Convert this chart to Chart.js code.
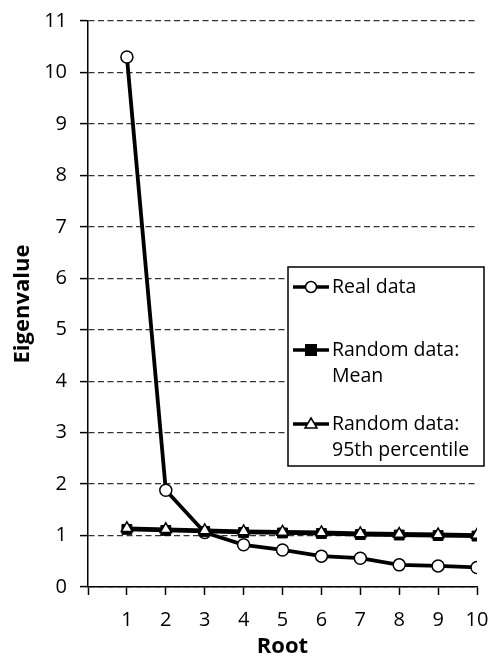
<!DOCTYPE html>
<html>
<head>
<meta charset="utf-8">
<script src="https://cdn.jsdelivr.net/npm/chart.js@4/dist/chart.umd.min.js"></script>
<style>
html,body{margin:0;padding:0;background:#fff;}
#wrap{width:493px;height:660px;position:relative;}
</style>
</head>
<body>
<div id="wrap"><canvas id="c" width="493" height="660"></canvas></div>
<script>
const roots = [1,2,3,4,5,6,7,8,9,10];
const realData = [10.3, 1.88, 1.06, 0.82, 0.72, 0.60, 0.56, 0.43, 0.41, 0.38];
const randomMean = [1.12, 1.10, 1.08, 1.06, 1.05, 1.04, 1.02, 1.01, 1.00, 0.99];
const random95 = [1.14, 1.12, 1.10, 1.08, 1.07, 1.06, 1.04, 1.03, 1.02, 1.01];
const seriesNames = ['Real data', ['Random data:', 'Mean'], ['Random data:', '95th percentile']];
const yTicks = [0,1,2,3,4,5,6,7,8,9,10,11];
const xTicks = roots;

const FONT = '"Open Sans"';
const toPts = arr => roots.map((r, i) => ({x: r, y: arr[i]}));

const legendPlugin = {
  id: 'boxLegend',
  afterDraw(chart) {
    const ctx = chart.ctx;
    ctx.save();
    const bx = 288, by = 267, bw = 196, bh = 199;
    ctx.fillStyle = '#fff';
    ctx.fillRect(bx, by, bw, bh);
    ctx.lineWidth = 1.5;
    ctx.strokeStyle = '#000';
    ctx.strokeRect(bx, by, bw, bh);
    ctx.font = '19.5px ' + FONT;
    ctx.fillStyle = '#000';
    ctx.textBaseline = 'middle';
    const entries = [
      {y: 287, lines: [seriesNames[0]], ds: 0},
      {y: 350, lines: seriesNames[1], ds: 1},
      {y: 424, lines: seriesNames[2], ds: 2}
    ];
    entries.forEach(e => {
      const ds = chart.data.datasets[e.ds];
      ctx.lineWidth = 3.5;
      ctx.strokeStyle = '#000';
      ctx.beginPath();
      ctx.moveTo(293, e.y);
      ctx.lineTo(329, e.y);
      ctx.stroke();
      ctx.lineWidth = 1.5;
      if (ds.pointStyle === 'circle') {
        ctx.beginPath();
        ctx.arc(311, e.y, 5.5, 0, Math.PI * 2);
        ctx.fillStyle = '#fff';
        ctx.fill();
        ctx.stroke();
      } else if (ds.pointStyle === 'rect') {
        ctx.fillStyle = '#000';
        ctx.fillRect(305, e.y - 6, 12, 12);
      } else {
        ctx.beginPath();
        ctx.moveTo(311, e.y - 6);
        ctx.lineTo(317, e.y + 4);
        ctx.lineTo(305, e.y + 4);
        ctx.closePath();
        ctx.fillStyle = '#fff';
        ctx.fill();
        ctx.stroke();
      }
      ctx.fillStyle = '#000';
      e.lines.forEach((t, i) => ctx.fillText(t, 332, e.y + i * 26));
    });
    ctx.restore();
  }
};

new Chart(document.getElementById('c'), {
  type: 'scatter',
  data: {
    datasets: [
      {
        label: 'Real data', data: toPts(realData), showLine: true,
        borderColor: '#000', borderWidth: 3.8, pointStyle: 'circle',
        pointRadius: 6, pointBackgroundColor: '#fff', pointBorderColor: '#000', pointBorderWidth: 1.5,
        order: 3
      },
      {
        label: 'Random data: Mean', data: toPts(randomMean), showLine: true,
        borderColor: '#000', borderWidth: 3.8, pointStyle: 'rect',
        pointRadius: 7, pointBackgroundColor: '#000', pointBorderColor: '#000', pointBorderWidth: 1,
        order: 2
      },
      {
        label: 'Random data: 95th percentile', data: toPts(random95), showLine: true,
        borderColor: '#000', borderWidth: 3.8, pointStyle: 'triangle',
        pointRadius: 6.5, pointBackgroundColor: '#fff', pointBorderColor: '#000', pointBorderWidth: 1.5,
        order: 1
      }
    ]
  },
  options: {
    responsive: false,
    animation: false,
    layout: {padding: {top: 21, right: 16, left: 0, bottom: 0}},
    plugins: {legend: {display: false}, tooltip: {enabled: false}},
    scales: {
      x: {
        type: 'linear', min: 0, max: 10,
        afterBuildTicks: s => { s.ticks = [0].concat(xTicks).map(v => ({value: v})); },
        afterFit: s => { s.height = 73; s.paddingLeft = 0; s.paddingRight = 0; },
        ticks: {
          color: '#000', font: {family: FONT, size: 20}, padding: 13,
          callback: v => v === 0 ? '' : String(v), maxRotation: 0, autoSkip: false
        },
        grid: {color: 'rgba(0,0,0,0)', tickColor: '#000', tickLength: 8, tickWidth: 1.5},
        border: {color: '#000', width: 1.5},
        title: {display: true, text: 'Root', color: '#000', font: {family: FONT, size: 22, weight: 'bold'}, padding: {top: 0, bottom: 0}}
      },
      y: {
        type: 'linear', min: 0, max: 11,
        afterBuildTicks: s => { s.ticks = yTicks.map(v => ({value: v})); },
        afterFit: s => { s.width = 88; s.paddingTop = 0; s.paddingBottom = 0; },
        ticks: {color: '#000', font: {family: FONT, size: 20}, padding: 13},
        grid: {color: '#333', lineWidth: 1.2, tickColor: '#000', tickLength: 8, tickWidth: 1.5, tickBorderDash: []},
        border: {color: '#000', width: 1.5, dash: [6, 3.5]},
        title: {display: true, text: 'Eigenvalue', color: '#000', font: {family: FONT, size: 22, weight: 'bold'}, padding: {top: 10, bottom: 0}}
      }
    }
  },
  plugins: [legendPlugin]
});
</script>
</body>
</html>
